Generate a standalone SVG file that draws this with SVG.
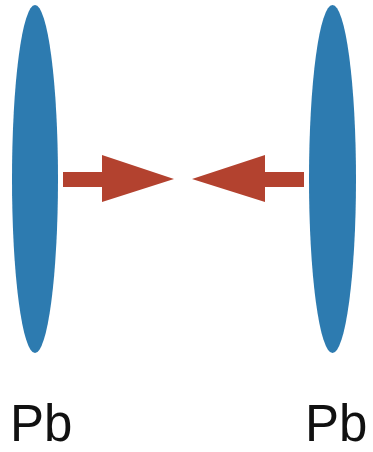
<svg xmlns="http://www.w3.org/2000/svg" width="373" height="452" viewBox="0 0 373 452">
<style>
.plate{fill:#2d7bb0}
.arrow{fill:#b3422f}
.lbl{font-family:"Liberation Sans",Arial,sans-serif;font-size:51px;fill:#111}
</style>
<rect width="373" height="452" fill="#fff"/>
<g id="plate-left"><ellipse class="plate" cx="35" cy="179" rx="23" ry="174"/></g>
<g id="plate-right"><ellipse class="plate" cx="332.5" cy="179" rx="23.5" ry="174"/></g>
<g id="connectors">
<polygon class="arrow" points="63,172 102,172 102,155 174,179 102,202 102,187 63,187"/>
<polygon class="arrow" points="304,172 265,172 265,155 192,179 265,202 265,187 304,187"/>
</g>
<g id="label-left"><text class="lbl" x="10" y="441">Pb</text></g>
<g id="label-right"><text class="lbl" x="305" y="441">Pb</text></g>
</svg>
